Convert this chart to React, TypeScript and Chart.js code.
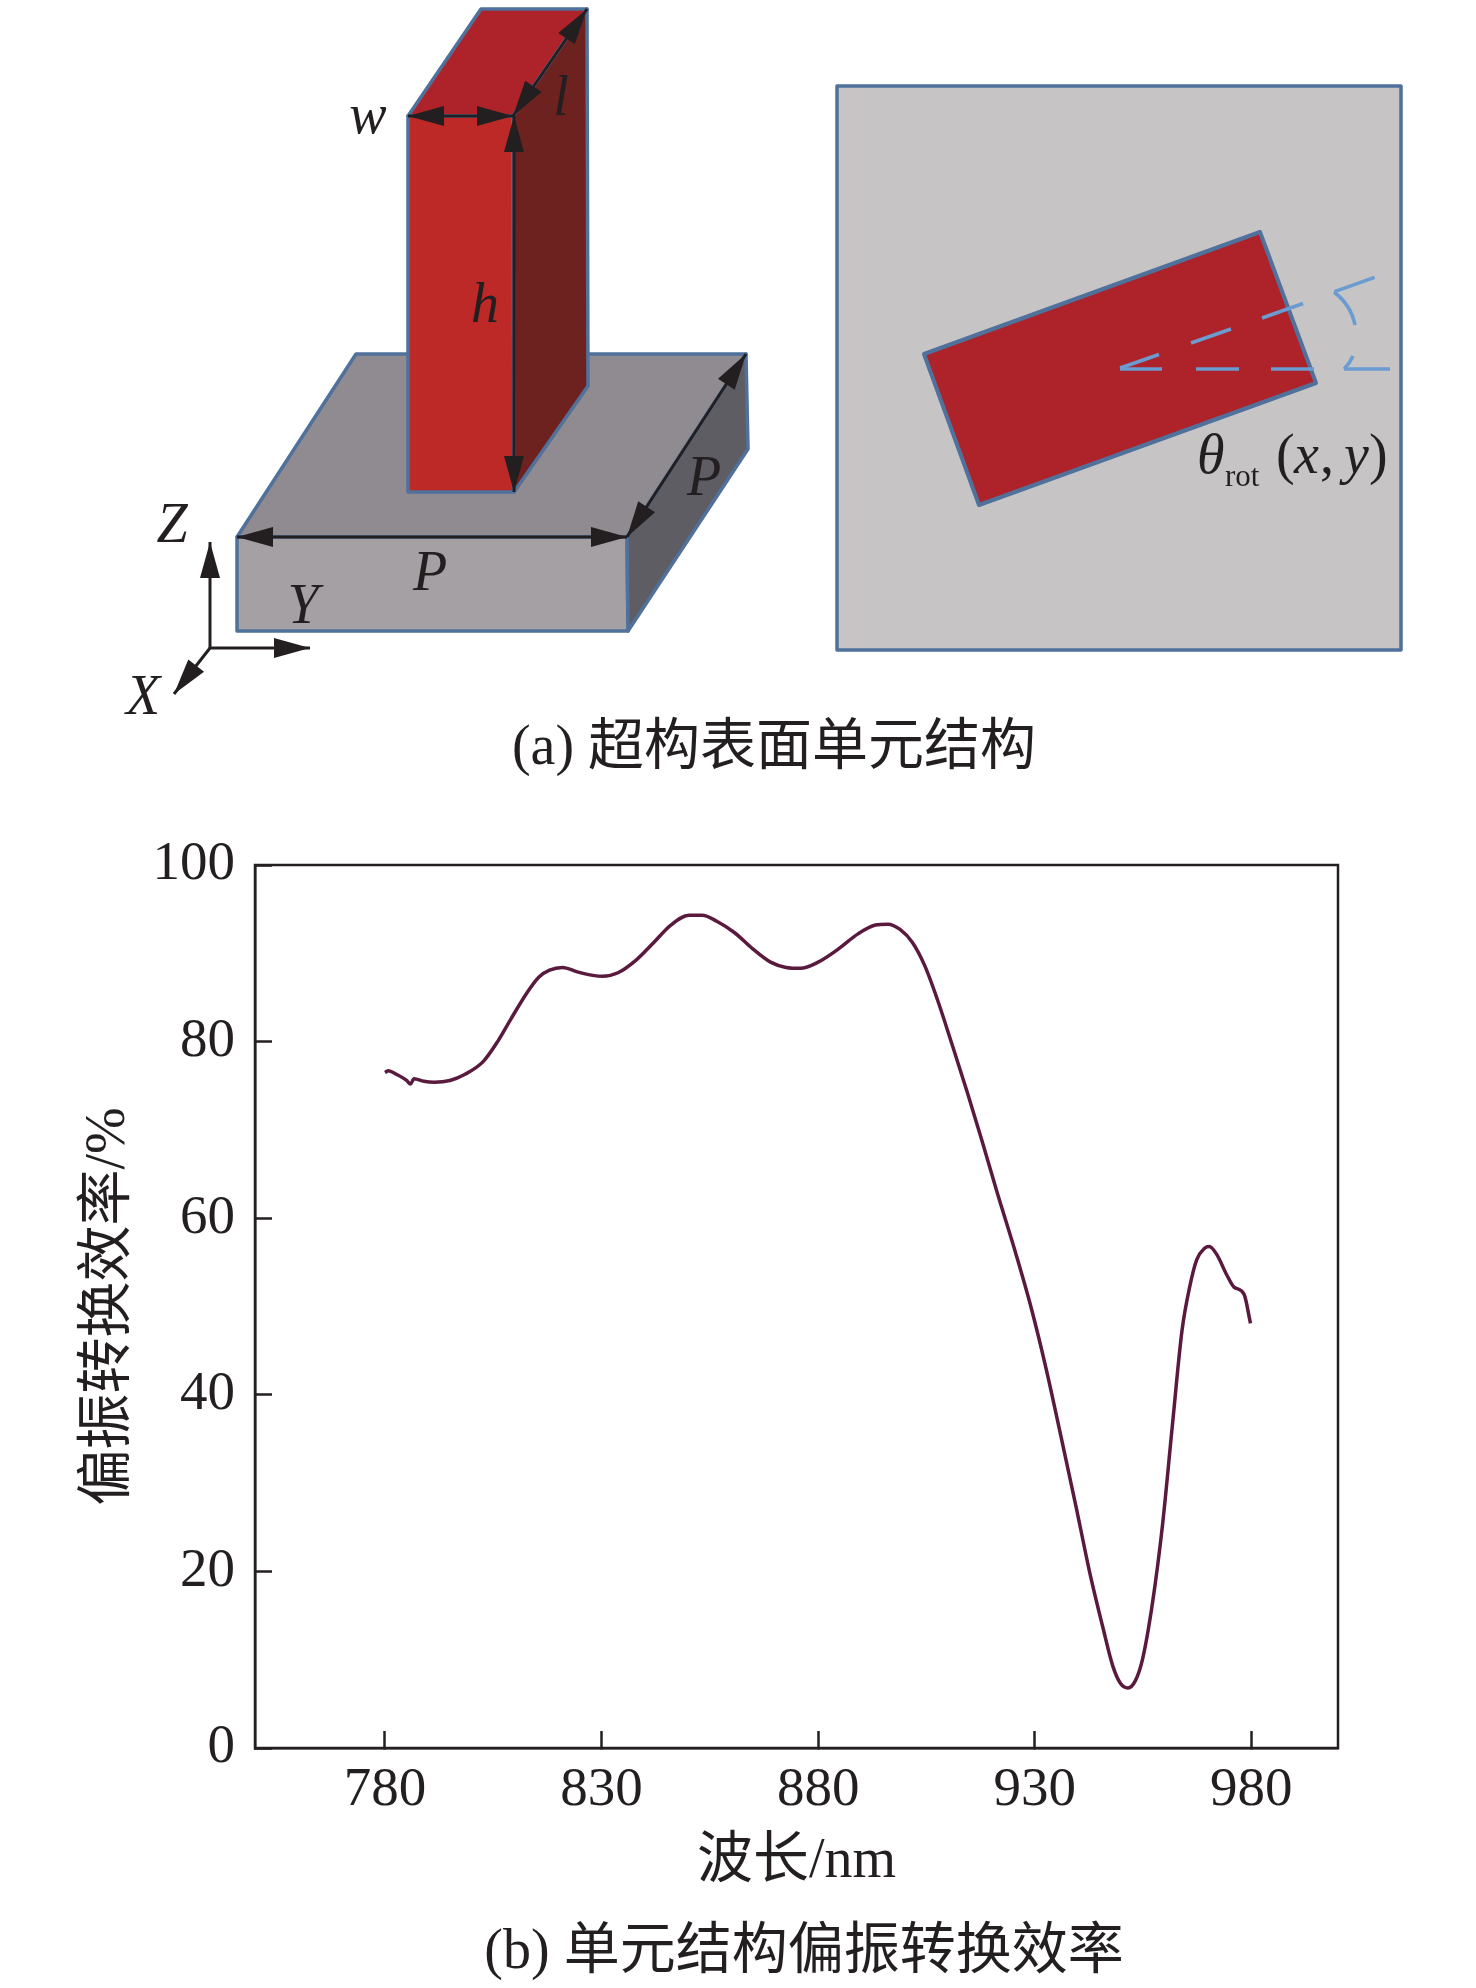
import React, { useEffect, useRef } from "react";
import { Chart, registerables } from "chart.js";

Chart.register(...registerables);

const wavelengths = [780, 780.8, 782.6, 785, 785.9, 786.7, 789, 791.4, 795, 798.5, 802.6, 806, 809, 812.6, 815.5, 818, 821, 824.4, 828, 830.2, 833.8, 837.9, 842, 846, 850.2, 853.2, 856.7, 860.8, 864.9, 869, 872.6, 875.9, 880, 884.7, 889.2, 893.2, 896.1, 898.9, 901.8, 904.6, 907.5, 910.9, 914.4, 917.8, 921.2, 925.8, 929.2, 932.6, 936, 939.5, 942.9, 945.8, 948, 949.8, 951.5, 953.2, 954.9, 957.2, 959.5, 961.8, 964, 965.8, 967.4, 969.2, 970.3, 972, 974.3, 976, 978.3, 979.8];
const efficiency = [76.5, 76.7, 76.3, 75.6, 75.2, 75.8, 75.5, 75.4, 75.6, 76.3, 77.7, 80.0, 82.5, 85.4, 87.3, 88.1, 88.4, 87.9, 87.5, 87.4, 87.8, 89.2, 91.2, 93.2, 94.3, 94.3, 93.6, 92.3, 90.5, 89, 88.4, 88.3, 89, 90.5, 92.2, 93.2, 93.3, 92.7, 91.2, 88.6, 84.8, 79.7, 74.3, 68.8, 63.1, 55.7, 49.8, 43, 35.4, 27.4, 19.4, 13.5, 9.3, 7.3, 6.8, 7.6, 10.1, 16.5, 25.3, 36.7, 47.3, 52.3, 55.3, 56.6, 56.8, 55.9, 53.6, 52.2, 51.4, 48.1];
const xTicks = [780, 830, 880, 930, 980];
const yTicks = [0, 20, 40, 60, 80, 100];
const xTitle = "波长/nm";
const yTitle = "偏振转换效率/%";
const captionA = "(a) 超构表面单元结构";
const captionB = "(b) 单元结构偏振转换效率";

const FAMILY = '"Liberation Serif", "Noto Sans CJK SC", serif';
const INK = "#231F20";
const EDGE = "#4F719B";
const DASH = "#6A9BD1";

type Pt = [number, number];

const faces: { pts: Pt[]; fill: string }[] = [
  { pts: [[237, 537], [356, 354], [746, 354], [627, 537]], fill: "#8F8B90" },
  { pts: [[237, 537], [627, 537], [628, 631], [237, 631]], fill: "#A4A0A3" },
  { pts: [[627, 537], [746, 354], [748, 449], [628, 631]], fill: "#5E5D63" },
  { pts: [[408, 116], [481, 9], [587, 9], [513, 116]], fill: "#AE2329" },
  { pts: [[408, 116], [513, 116], [514, 492], [408, 492]], fill: "#BC2927" },
  { pts: [[513, 116], [587, 9], [588, 386], [514, 492]], fill: "#6E2220" },
];

const doubleArrows: [Pt, Pt][] = [
  [[408, 116], [513, 116]],
  [[587, 9], [513, 116]],
  [[514, 116], [514, 492]],
  [[237, 537], [627, 537]],
  [[746, 354], [627, 537]],
];
const singleArrows: [Pt, Pt][] = [
  [[210, 648], [210, 542]],
  [[210, 648], [310, 648]],
  [[210, 648], [174, 694]],
];
const italicLabels: [string, number, number][] = [
  ["w", 368, 118],
  ["l", 561, 100],
  ["h", 485, 307],
  ["P", 430, 575],
  ["P", 704, 480],
  ["Y", 303, 608],
  ["Z", 172, 527],
  ["X", 143, 699],
];

const illustration = {
  id: "illustration",
  afterDraw(chart: any) {
    const c = chart.ctx as CanvasRenderingContext2D;
    c.save();
    const poly = (pts: Pt[], fill: string, stroke: string, w: number) => {
      c.beginPath();
      pts.forEach((p, i) => (i ? c.lineTo(p[0], p[1]) : c.moveTo(p[0], p[1])));
      c.closePath();
      c.fillStyle = fill;
      c.fill();
      c.strokeStyle = stroke;
      c.lineWidth = w;
      c.lineJoin = "round";
      c.stroke();
    };
    const head = (from: Pt, to: Pt) => {
      const a = Math.atan2(to[1] - from[1], to[0] - from[0]);
      const L = 36, W = 10;
      const bx = to[0] - L * Math.cos(a), by = to[1] - L * Math.sin(a);
      const nx = -Math.sin(a) * W, ny = Math.cos(a) * W;
      c.beginPath();
      c.moveTo(to[0], to[1]);
      c.lineTo(bx + nx, by + ny);
      c.lineTo(bx - nx, by - ny);
      c.closePath();
      c.fillStyle = INK;
      c.fill();
    };
    const line = (a: Pt, b: Pt, color: string, w: number) => {
      c.beginPath();
      c.moveTo(a[0], a[1]);
      c.lineTo(b[0], b[1]);
      c.strokeStyle = color;
      c.lineWidth = w;
      c.stroke();
    };
    faces.forEach((f) => poly(f.pts, f.fill, EDGE, 3.5));
    doubleArrows.forEach(([a, b]) => {
      line(a, b, INK, 3);
      head(b, a);
      head(a, b);
    });
    singleArrows.forEach(([a, b]) => {
      line(a, b, INK, 3);
      head(a, b);
    });
    c.fillStyle = INK;
    c.textAlign = "center";
    c.textBaseline = "middle";
    c.font = `italic 56px ${FAMILY}`;
    italicLabels.forEach(([t, x, y]) => c.fillText(t, x, y));

    // top view panel
    poly([[837, 86], [1401, 86], [1401, 650], [837, 650]], "#C6C4C5", EDGE, 3.5);
    poly([[924, 354], [1260, 232], [1316, 383], [979, 505]], "#AE2329", EDGE, 4);
    c.lineCap = "butt";
    const dashes: [Pt, Pt][] = [
      [[1120, 369], [1162, 369]],
      [[1196, 369], [1239, 369]],
      [[1271, 369], [1314, 369]],
      [[1344, 369], [1390, 369]],
      [[1120, 368], [1159, 354.5]],
      [[1191, 343], [1231, 329]],
      [[1262, 318], [1303, 303.5]],
      [[1334.5, 291.6], [1374.6, 277.4]],
    ];
    dashes.forEach(([a, b]) => line(a, b, DASH, 3.5));
    c.strokeStyle = DASH;
    c.lineWidth = 3.5;
    c.beginPath();
    c.moveTo(1334, 292);
    c.quadraticCurveTo(1351, 305, 1355, 325);
    c.moveTo(1353, 356);
    c.quadraticCurveTo(1350, 363, 1344, 369);
    c.stroke();

    c.fillStyle = INK;
    c.textAlign = "left";
    c.textBaseline = "alphabetic";
    const run = (t: string, x: number, y: number, font: string) => {
      c.font = font;
      c.fillText(t, x, y);
    };
    run("θ", 1197, 473, `italic 56px ${FAMILY}`);
    run("rot", 1225, 486, `31px ${FAMILY}`);
    run("(", 1276, 473, `56px ${FAMILY}`);
    run("x", 1294, 473, `italic 56px ${FAMILY}`);
    run(",", 1320, 473, `56px ${FAMILY}`);
    run("y", 1344, 473, `italic 56px ${FAMILY}`);
    run(")", 1369, 473, `56px ${FAMILY}`);

    // captions
    c.textAlign = "center";
    c.textBaseline = "middle";
    c.font = `56px ${FAMILY}`;
    c.fillText(captionA, 774, 749);
    c.fillText(captionB, 804, 1953);
    c.restore();
  },
};

const frame = {
  id: "frame",
  afterDatasetsDraw(chart: any) {
    const { left, right, top, bottom } = chart.chartArea;
    const c = chart.ctx as CanvasRenderingContext2D;
    c.save();
    c.strokeStyle = INK;
    c.lineWidth = 2.5;
    c.strokeRect(left, top, right - left, bottom - top);
    c.restore();
  },
};

export default function App() {
  const ref = useRef<HTMLCanvasElement>(null);
  useEffect(() => {
    const chart = new Chart(ref.current!, {
      type: "line",
      data: {
        datasets: [
          {
            data: wavelengths.map((x, i) => ({ x, y: efficiency[i] })),
            borderColor: "#5A1A3E",
            borderWidth: 3.5,
            pointRadius: 0,
            tension: 0.4,
            cubicInterpolationMode: "monotone",
            fill: false,
          },
        ],
      },
      options: {
        responsive: false,
        animation: false,
        devicePixelRatio: 1,
        layout: { padding: { left: 0, right: 138, top: 865, bottom: 0 } },
        plugins: { legend: { display: false }, tooltip: { enabled: false }, title: { display: false } },
        scales: {
          x: {
            type: "linear",
            min: 750,
            max: 1000,
            afterBuildTicks: (s: any) => {
              s.ticks = xTicks.map((value) => ({ value }));
            },
            afterFit: (s: any) => {
              s.height = 240;
            },
            grid: { drawOnChartArea: false, tickLength: -17, tickColor: INK, tickWidth: 2.5 },
            border: { color: INK, width: 2.5 },
            ticks: {
              maxRotation: 0,
              autoSkip: false,
              color: INK,
              padding: 27,
              font: { family: FAMILY, size: 55 },
            },
            title: {
              display: true,
              text: xTitle,
              color: INK,
              font: { family: FAMILY, size: 56 },
              padding: { top: 0, bottom: 92 },
            },
          },
          y: {
            min: 0,
            max: 100,
            afterBuildTicks: (s: any) => {
              s.ticks = yTicks.map((value) => ({ value }));
            },
            afterFit: (s: any) => {
              s.width = 255;
            },
            grid: { drawOnChartArea: false, tickLength: -17, tickColor: INK, tickWidth: 2.5 },
            border: { color: INK, width: 2.5 },
            ticks: {
              autoSkip: false,
              color: INK,
              padding: 37,
              font: { family: FAMILY, size: 55 },
            },
            title: {
              display: true,
              text: yTitle,
              color: INK,
              font: { family: FAMILY, size: 56 },
              padding: { top: 76, bottom: 0 },
            },
          },
        },
      },
      plugins: [frame, illustration],
    } as any);
    return () => chart.destroy();
  }, []);
  return (
    <canvas
      ref={ref}
      width={1476}
      height={1988}
      style={{ position: "absolute", left: 0, top: 0, width: 1476, height: 1988, display: "block" }}
    />
  );
}
